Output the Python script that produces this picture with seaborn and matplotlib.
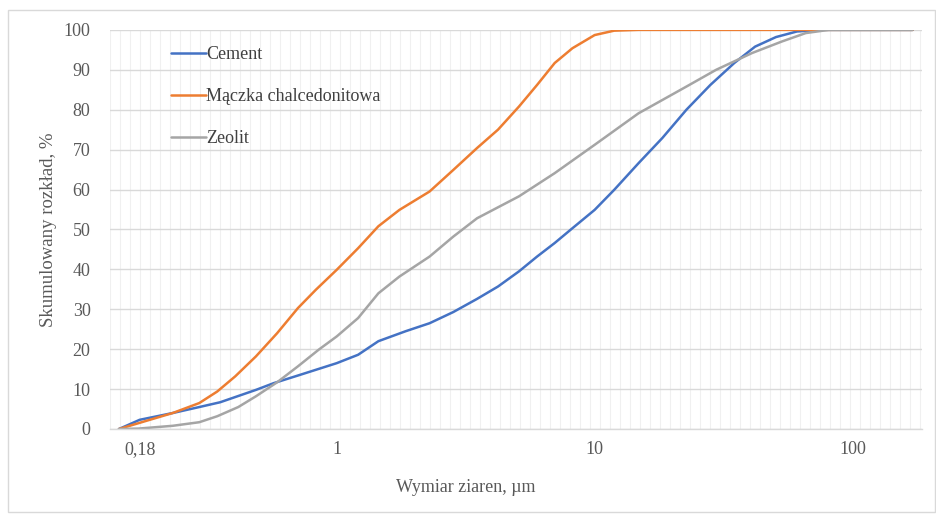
import numpy as np
import pandas as pd
import matplotlib
matplotlib.use("Agg")
import matplotlib.pyplot as plt
import matplotlib.ticker as mticker
from matplotlib.patches import Rectangle
import seaborn as sns

# particle size (um) and cumulative distribution (%)
cement_x = [0.143, 0.172, 0.231, 0.293, 0.353, 0.486, 0.57, 0.707, 1.0, 1.21, 1.45, 1.85,
            2.29, 2.83, 3.5, 4.22, 5.09, 5.98, 7.0, 8.2, 10.0, 11.9, 14.8, 18.3, 22.7,
            28.1, 34.8, 41.9, 50.5, 60.9, 77.0, 171.0]
cement_y = [0, 2.3, 4.0, 5.5, 6.7, 9.8, 11.5, 13.4, 16.5, 18.6, 22.0, 24.5,
            26.5, 29.3, 32.6, 35.7, 39.5, 43.2, 46.6, 50.3, 54.9, 59.9, 66.6, 72.9, 80.0,
            86.2, 91.7, 95.8, 98.2, 99.6, 100, 100]

maczka_x = [0.143, 0.186, 0.231, 0.293, 0.344, 0.404, 0.486, 0.587, 0.707, 0.83, 1.0, 1.21,
            1.45, 1.75, 2.29, 2.83, 3.5, 4.22, 5.09, 5.98, 7.0, 8.2, 10.0, 11.9, 14.8, 171.0]
maczka_y = [0, 2.2, 4.0, 6.5, 9.4, 13.2, 18.2, 24.0, 30.3, 34.9, 39.9, 45.3,
            50.8, 54.9, 59.5, 64.9, 70.4, 75.0, 80.8, 86.2, 91.7, 95.4, 98.7, 99.8, 100, 100]

zeolit_x = [0.143, 0.17, 0.231, 0.293, 0.344, 0.415, 0.486, 0.587, 0.707, 0.852, 1.0, 1.21,
            1.45, 1.75, 2.29, 2.83, 3.5, 5.09, 7.0, 10.0, 14.8, 22.7, 29.6, 40.8, 53.3,
            65.9, 81.0, 171.0]
zeolit_y = [0, 0.1, 0.8, 1.7, 3.2, 5.5, 8.2, 11.7, 15.7, 19.9, 23.2, 27.8,
            34.0, 38.2, 43.2, 48.2, 52.8, 58.3, 64.1, 71.2, 79.1, 85.8, 90.0, 94.2, 97.1,
            99.2, 100, 100]

series_names = ["Cement", "Mączka chalcedonitowa", "Zeolit"]
colors = ["#4472C4", "#ED7D31", "#A5A5A5"]

x_ticks = [0.172, 1, 10, 100]
x_tick_labels = ["0,18", "1", "10", "100"]
y_ticks = list(range(0, 101, 10))

df = pd.concat([
    pd.DataFrame({"x": cement_x, "y": cement_y, "s": series_names[0]}),
    pd.DataFrame({"x": maczka_x, "y": maczka_y, "s": series_names[1]}),
    pd.DataFrame({"x": zeolit_x, "y": zeolit_y, "s": series_names[2]}),
])

sns.set_theme(style="white")
plt.rcParams["font.family"] = ["Liberation Serif", "DejaVu Serif"]

fig = plt.figure(figsize=(9.37, 5.15), dpi=100)
ax = fig.add_axes([0.1174, 0.167, 0.8666, 0.775])

sns.lineplot(data=df, x="x", y="y", hue="s", palette=dict(zip(series_names, colors)),
             linewidth=1.8, ax=ax, estimator=None, sort=True)

ax.set_xscale("log")
xmin, xmax = 0.132, 186
ax.set_xlim(xmin, xmax)
ax.set_ylim(0, 100)

# evenly spaced (in log) vertical gridlines, ~10 px apart
step = 1 / 25.8
grid_pos = 10 ** np.arange(np.log10(xmin), np.log10(xmax), step)
ax.xaxis.set_minor_locator(mticker.FixedLocator(grid_pos))
ax.xaxis.set_minor_formatter(mticker.NullFormatter())
ax.xaxis.set_major_locator(mticker.FixedLocator(x_ticks))
ax.xaxis.set_major_formatter(mticker.FixedFormatter(x_tick_labels))
ax.set_yticks(y_ticks)

ax.grid(which="minor", axis="x", color="#f0f0f0", linewidth=0.8)
ax.grid(which="major", axis="y", color="#d9d9d9", linewidth=1.0)
ax.set_axisbelow(True)

for side in ["left", "right", "top"]:
    ax.spines[side].set_visible(False)
ax.spines["bottom"].set_color("#d9d9d9")
ax.spines["bottom"].set_linewidth(1.0)

ax.tick_params(axis="both", which="both", length=0, labelsize=13, colors="#595959")
ax.tick_params(axis="x", pad=9)
ax.tick_params(axis="y", pad=14)

ax.set_xlabel("")
ax.set_ylabel("Skumulowany rozkład, %", fontsize=13.5, color="#595959", labelpad=5)
fig.text(0.497, 0.054, "Wymiar ziaren, µm", fontsize=13, color="#595959",
         ha="center", va="center")

ax.legend(loc="upper left", bbox_to_anchor=(0.055, 1.0), frameon=False, fontsize=13,
          handlelength=1.95, handletextpad=0.0, labelspacing=1.38,
          labelcolor="#404040")

fig.patches.append(Rectangle((8 / 937, 3 / 515), 927 / 937, 502 / 515,
                             transform=fig.transFigure, fill=False,
                             edgecolor="#d9d9d9", linewidth=1.0))

fig.savefig("out.png", dpi=100)
